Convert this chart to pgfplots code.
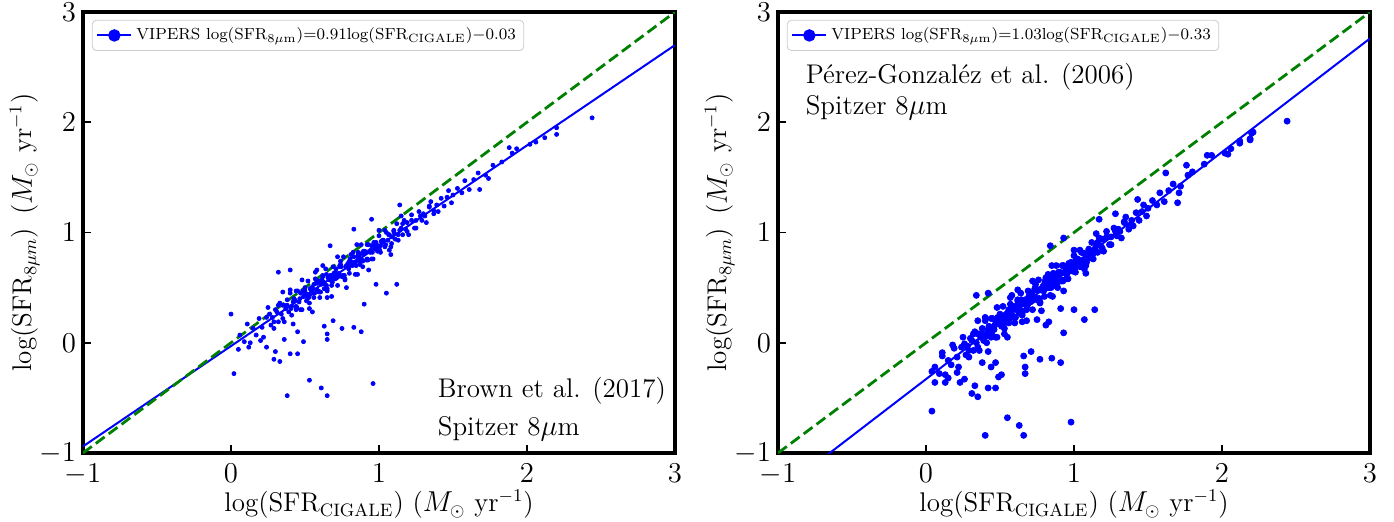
\documentclass[border=0pt]{standalone}
\usepackage{pgfplots}
\pgfplotsset{compat=1.18}
\definecolor{mgreen}{rgb}{0,0.5,0}

\pgfplotsset{
  sfrpanel/.style={
    scale only axis, width=296pt, height=220.5pt,
    xmin=-1, xmax=3, ymin=-1, ymax=3,
    xtick={-1,0,1,2,3}, ytick={-1,0,1,2,3},
    tick align=inside, xtick pos=bottom, ytick pos=left,
    major tick length=3.8pt,
    every tick/.style={black, line width=0.8pt},
    axis line style={line width=1.6pt},
    tick label style={font=\fontsize{13.5}{16}\selectfont},
    xticklabel style={yshift=-2pt},
    label style={font=\fontsize{13.5}{16}\selectfont},
    xlabel={log(SFR$_{\mathrm{CIGALE}}$) ($M_\odot$ yr$^{-1}$)},
    ylabel={log(SFR$_{8\mu m}$)\, ($M_\odot$ yr$^{-1}$)},
    xlabel style={yshift=4.5pt},
    ylabel style={yshift=-7pt},
    legend style={at={(0.015,0.982)}, anchor=north west, draw=black!20,
      rounded corners=2pt, font=\fontsize{8}{10}\selectfont,
      inner xsep=2pt, inner ysep=1.8pt},
    legend cell align=left,
  },
  pts/.style={only marks, mark=*, blue, mark options={draw=blue, fill=blue}},
}

\begin{document}
\begin{tikzpicture}
% ---------------- left panel: Brown et al. (2017)
\begin{axis}[sfrpanel]
\addlegendimage{blue, line width=1pt, mark=*, mark size=2.6pt}
\addlegendentry{VIPERS log(SFR$_{8\mu\mathrm{m}}$)=0.91log(SFR$_{\mathrm{CIGALE}}$)$-$0.03}
% main sequence
\addplot[pts, mark size=1pt] coordinates {
(0.06,0.07) (0.09,0.01) (0.11,0.17) (0.13,0.00) (0.15,0.13) (0.17,0.07) (0.19,0.22) (0.21,0.14)
(0.22,0.05) (0.24,0.23) (0.25,0.32) (0.27,0.16) (0.28,0.23) (0.29,0.13) (0.30,0.30)
(0.31,0.28) (0.32,0.19) (0.33,0.36) (0.34,0.26) (0.35,0.34) (0.36,0.19) (0.37,0.31) (0.38,0.39)
(0.39,0.28) (0.40,0.45) (0.41,0.25) (0.42,0.37) (0.43,0.39) (0.44,0.30) (0.45,0.47) (0.46,0.37)
(0.47,0.45) (0.48,0.30) (0.49,0.42) (0.50,0.50) (0.51,0.38) (0.52,0.56) (0.53,0.36) (0.54,0.48)
(0.55,0.50) (0.56,0.41) (0.57,0.58) (0.58,0.48) (0.59,0.56) (0.60,0.41)
(0.36,0.34) (0.44,0.33) (0.50,0.44) (0.53,0.31) (0.57,0.64)
(0.61,0.53) (0.62,0.60) (0.63,0.49) (0.64,0.67) (0.65,0.47) (0.66,0.59) (0.67,0.61) (0.68,0.52)
(0.69,0.69) (0.70,0.59) (0.71,0.67) (0.72,0.52) (0.73,0.63) (0.74,0.71) (0.75,0.60) (0.76,0.78)
(0.77,0.58) (0.78,0.70) (0.79,0.72) (0.80,0.63) (0.81,0.80) (0.82,0.70) (0.83,0.78) (0.84,0.62)
(0.85,0.74) (0.86,0.82) (0.87,0.71) (0.88,0.89) (0.89,0.69) (0.90,0.81)
(0.615,0.57) (0.645,0.52) (0.675,0.59) (0.705,0.58) (0.735,0.70) (0.765,0.61) (0.795,0.69)
(0.825,0.82) (0.855,0.62) (0.885,0.81)
(0.91,0.82) (0.92,0.76) (0.93,0.89) (0.94,0.82) (0.95,0.88) (0.96,0.76) (0.97,0.85) (0.98,0.91)
(0.99,0.83) (1.00,0.97) (1.01,0.82) (1.02,0.91) (1.03,0.93) (1.04,0.87) (1.05,1.00) (1.06,0.93)
(1.07,0.98) (1.08,0.87) (1.09,0.96) (1.10,1.02) (1.11,0.94) (1.12,1.08) (1.13,0.93) (1.14,1.02)
(1.15,1.04) (1.16,0.98) (1.17,1.11) (1.18,1.03) (1.19,1.09) (1.20,0.98)
(1.22,1.11) (1.24,1.04) (1.25,1.11) (1.27,1.19) (1.29,1.11) (1.30,1.17) (1.32,1.09) (1.34,1.23)
(1.35,1.28) (1.37,1.20) (1.39,1.25) (1.40,1.19) (1.42,1.31) (1.44,1.24) (1.46,1.32) (1.47,1.38)
(1.49,1.27) (1.50,1.34)
(1.53,1.40) (1.56,1.36) (1.58,1.47) (1.61,1.39) (1.64,1.48) (1.67,1.54) (1.72,1.52) (1.77,1.61)
(1.83,1.64) (1.90,1.72) (1.93,1.76) (2.02,1.80) (2.06,1.82) (2.12,1.86) (2.20,1.95) (2.20,1.89)
(2.44,2.04)
};
% densest part of the sequence
\addplot[pts, mark size=1pt] coordinates {
(0.405,0.31) (0.425,0.40) (0.445,0.32) (0.465,0.40) (0.485,0.47) (0.505,0.42) (0.525,0.41)
(0.545,0.50) (0.565,0.45) (0.585,0.54) (0.605,0.46) (0.625,0.55) (0.645,0.62) (0.665,0.57)
(0.685,0.55) (0.705,0.64) (0.725,0.60) (0.745,0.69) (0.765,0.61) (0.785,0.69) (0.805,0.76)
(0.825,0.71) (0.845,0.70) (0.865,0.79) (0.885,0.75) (0.905,0.83) (0.925,0.75) (0.945,0.84)
(0.965,0.91) (0.985,0.86) (1.005,0.84) (1.025,0.93) (1.045,0.89) (1.065,0.98) (1.085,0.90)
(1.105,0.99)
(0.515,0.44) (0.535,0.49) (0.555,0.45) (0.575,0.54) (0.595,0.46) (0.615,0.54) (0.635,0.53)
(0.655,0.59) (0.675,0.58) (0.695,0.63) (0.715,0.59) (0.735,0.69) (0.755,0.61) (0.775,0.69)
(0.795,0.67) (0.815,0.73) (0.835,0.73) (0.855,0.78) (0.875,0.74) (0.895,0.83) (0.915,0.75)
(0.935,0.83) (0.955,0.82) (0.975,0.88) (0.995,0.88) (1.015,0.92)
(0.26,0.26) (0.29,0.19) (0.32,0.34) (0.35,0.22) (0.38,0.34) (0.41,0.33) (0.44,0.47) (0.47,0.30)
(0.50,0.47) (0.53,0.43) (0.56,0.53) (0.59,0.47) (0.62,0.61) (0.65,0.49) (0.68,0.61) (0.71,0.61)
(0.74,0.74) (0.77,0.57) (0.80,0.74) (0.83,0.71) (0.86,0.80) (0.89,0.74) (0.92,0.89) (0.95,0.76)
(0.98,0.88) (1.01,0.88) (1.04,1.02) (1.07,0.84) (1.10,1.01) (1.13,0.98) (1.16,1.08) (1.19,1.01)
(1.22,1.16) (1.25,1.04) (1.28,1.15) (1.31,1.15) (1.34,1.24) (1.37,1.17)
(0.35,0.46) (0.42,0.17) (0.48,0.57) (0.55,0.28) (0.62,0.70) (0.68,0.42) (0.72,0.78) (0.78,0.50)
(0.85,0.89) (0.93,0.66) (1.00,1.02) (1.08,0.80) (1.15,1.15) (0.40,0.48) (0.58,0.66) (0.65,0.41)
};
% scattered points
\addplot[pts, mark size=1pt] coordinates {
(0.00,0.26) (0.32,0.64) (0.40,0.66) (0.67,0.88) (0.83,1.03) (0.95,1.12) (1.14,1.25) (1.12,0.53)
(1.05,0.45) (0.98,0.53) (0.90,0.35) (0.88,0.10) (0.83,0.14) (0.75,0.13) (0.69,0.20) (0.63,0.15)
(0.65,0.08) (0.65,0.03) (0.49,0.01) (0.45,0.10) (0.45,-0.10) (0.40,-0.10) (0.36,0.03) (0.30,-0.08)
(0.33,-0.17) (0.29,-0.15) (0.24,-0.04) (0.20,0.02) (0.12,-0.04) (0.05,-0.06) (0.02,-0.28)
(0.53,-0.34) (0.61,-0.41) (0.65,-0.48) (0.38,-0.48) (0.96,-0.37) (1.68,1.39) (1.74,1.49)
(1.88,1.77)
};
\addplot[blue, line width=1pt] coordinates {(-1,-0.94) (3,2.70)};
\addplot[mgreen, line width=1.4pt, dash pattern=on 5.5pt off 2.5pt] coordinates {(-1,-1) (3,3)};
\node[anchor=base west, font=\fontsize{13.5}{16}\selectfont] at (axis cs:1.35,-0.50) {Brown et al. (2017)};
\node[anchor=base west, font=\fontsize{13.5}{16}\selectfont] at (axis cs:1.35,-0.84) {Spitzer 8$\mu$m};
\end{axis}

% ---------------- right panel: Perez-Gonzalez et al. (2006)
\begin{axis}[sfrpanel, at={(347.5pt,0)}]
\addlegendimage{blue, line width=1pt, mark=*, mark size=2.6pt}
\addlegendentry{VIPERS log(SFR$_{8\mu\mathrm{m}}$)=1.03log(SFR$_{\mathrm{CIGALE}}$)$-$0.33}
\addplot[pts, mark size=1.5pt] coordinates {
(0.06,-0.22) (0.09,-0.28) (0.11,-0.12) (0.13,-0.29) (0.15,-0.16) (0.17,-0.20) (0.19,-0.05)
(0.21,-0.13) (0.22,-0.22) (0.24,-0.04) (0.25,0.05) (0.27,-0.11) (0.28,-0.03) (0.29,-0.13) (0.30,0.04)
(0.31,0.02) (0.32,-0.07) (0.33,0.10) (0.34,0.00) (0.35,0.08) (0.36,-0.07) (0.37,0.05) (0.38,0.13)
(0.39,0.02) (0.40,0.20) (0.41,0.00) (0.42,0.12) (0.43,0.14) (0.44,0.05) (0.45,0.22) (0.46,0.12)
(0.47,0.20) (0.48,0.05) (0.49,0.18) (0.50,0.26) (0.51,0.15) (0.52,0.33) (0.53,0.13) (0.54,0.25)
(0.55,0.27) (0.56,0.18) (0.57,0.35) (0.58,0.25) (0.59,0.33) (0.60,0.18)
(0.36,0.08) (0.44,0.08) (0.50,0.20) (0.53,0.08) (0.57,0.41)
(0.61,0.30) (0.62,0.38) (0.63,0.27) (0.64,0.45) (0.65,0.25) (0.66,0.37) (0.67,0.39) (0.68,0.30)
(0.69,0.47) (0.70,0.37) (0.71,0.45) (0.72,0.30) (0.73,0.42) (0.74,0.50) (0.75,0.39) (0.76,0.57)
(0.77,0.37) (0.78,0.49) (0.79,0.51) (0.80,0.42) (0.81,0.59) (0.82,0.50) (0.83,0.58) (0.84,0.43)
(0.85,0.55) (0.86,0.63) (0.87,0.52) (0.88,0.70) (0.89,0.50) (0.90,0.62)
(0.615,0.34) (0.645,0.29) (0.675,0.38) (0.705,0.37) (0.735,0.49) (0.765,0.40) (0.795,0.49)
(0.825,0.62) (0.855,0.42) (0.885,0.61)
(0.91,0.63) (0.92,0.57) (0.93,0.70) (0.94,0.63) (0.95,0.69) (0.96,0.58) (0.97,0.67) (0.98,0.73)
(0.99,0.65) (1.00,0.79) (1.01,0.64) (1.02,0.73) (1.03,0.75) (1.04,0.69) (1.05,0.82) (1.06,0.75)
(1.07,0.81) (1.08,0.70) (1.09,0.79) (1.10,0.85) (1.11,0.77) (1.12,0.91) (1.13,0.76) (1.14,0.85)
(1.15,0.88) (1.16,0.82) (1.17,0.95) (1.18,0.88) (1.19,0.94) (1.20,0.83)
(1.22,0.96) (1.24,0.89) (1.25,0.96) (1.27,1.04) (1.29,0.97) (1.30,1.03) (1.32,0.95) (1.34,1.09)
(1.35,1.14) (1.37,1.06) (1.39,1.11) (1.40,1.06) (1.42,1.18) (1.44,1.11) (1.46,1.19) (1.47,1.25)
(1.49,1.15) (1.50,1.22)
(1.53,1.29) (1.56,1.25) (1.58,1.36) (1.61,1.28) (1.64,1.38) (1.67,1.44) (1.72,1.42) (1.77,1.52)
(1.80,1.55) (1.88,1.62) (1.93,1.70) (2.02,1.72) (2.06,1.76) (2.12,1.83) (2.20,1.90) (2.19,1.84)
(2.44,2.01)
};
\addplot[pts, mark size=1.5pt] coordinates {
(0.405,0.06) (0.425,0.15) (0.445,0.07) (0.465,0.16) (0.485,0.23) (0.505,0.18) (0.525,0.17)
(0.545,0.26) (0.565,0.22) (0.585,0.31) (0.605,0.23) (0.625,0.32) (0.645,0.39) (0.665,0.35)
(0.685,0.34) (0.705,0.43) (0.725,0.39) (0.745,0.48) (0.765,0.40) (0.785,0.49) (0.805,0.56)
(0.825,0.51) (0.845,0.50) (0.865,0.59) (0.885,0.55) (0.905,0.64) (0.925,0.56) (0.945,0.65)
(0.965,0.72) (0.985,0.67) (1.005,0.67) (1.025,0.76) (1.045,0.72) (1.065,0.81) (1.085,0.73)
(1.105,0.82)
(0.515,0.20) (0.535,0.25) (0.555,0.21) (0.575,0.31) (0.595,0.23) (0.615,0.31) (0.635,0.30)
(0.655,0.36) (0.675,0.37) (0.695,0.42) (0.715,0.38) (0.735,0.48) (0.755,0.40) (0.775,0.48)
(0.795,0.47) (0.815,0.53) (0.835,0.53) (0.855,0.58) (0.875,0.54) (0.895,0.64) (0.915,0.56)
(0.935,0.64) (0.955,0.63) (0.975,0.69) (0.995,0.69) (1.015,0.75)
(0.26,-0.01) (0.29,-0.07) (0.32,0.08) (0.35,-0.04) (0.38,0.08) (0.41,0.08) (0.44,0.22) (0.47,0.05)
(0.50,0.23) (0.53,0.20) (0.56,0.30) (0.59,0.24) (0.62,0.39) (0.65,0.27) (0.68,0.39) (0.71,0.39)
(0.74,0.53) (0.77,0.36) (0.80,0.53) (0.83,0.50) (0.86,0.61) (0.89,0.55) (0.92,0.70) (0.95,0.58)
(0.98,0.70) (1.01,0.70) (1.04,0.84) (1.07,0.67) (1.10,0.84) (1.13,0.81) (1.16,0.91) (1.19,0.86)
(1.22,1.01) (1.25,0.89) (1.28,1.01) (1.31,1.01) (1.34,1.10) (1.37,1.03)
(0.35,0.20) (0.42,-0.08) (0.48,0.32) (0.55,0.05) (0.62,0.48) (0.68,0.20) (0.72,0.56) (0.78,0.29)
(0.85,0.70) (0.93,0.47) (1.00,0.84) (1.08,0.63) (1.15,0.99) (0.40,0.23) (0.58,0.43) (0.65,0.19)
};
\addplot[pts, mark size=1.5pt] coordinates {
(0.04,-0.62) (0.55,-0.68) (0.63,-0.75) (0.66,-0.84) (0.40,-0.84) (0.98,-0.72) (1.14,0.30)
(1.07,0.21) (0.93,0.09) (1.00,0.30) (0.91,0.31) (0.91,-0.18) (0.85,-0.14) (0.77,-0.15) (0.83,0.19)
(0.81,0.16) (0.75,0.21) (0.71,-0.08) (0.66,-0.12) (0.67,-0.22) (0.67,-0.28) (0.51,-0.29)
(0.49,-0.31) (0.47,-0.41) (0.42,-0.41) (0.44,-0.22) (0.47,-0.18) (0.38,-0.18) (0.35,-0.49)
(0.31,-0.46) (0.33,-0.39) (0.26,-0.33) (0.23,-0.36) (0.21,-0.27) (0.15,-0.32) (0.13,-0.36)
(0.06,-0.36) (0.04,-0.26) (0.11,-0.09) (0.18,-0.02) (0.34,0.43) (0.42,0.45) (0.84,0.88)
(0.93,0.95) (1.17,1.12) (1.28,1.17) (1.43,1.30) (1.62,1.54) (1.76,1.61) (1.70,1.27) (1.71,1.36)
(1.90,1.70) (2.12,1.81) (2.19,1.85) (2.21,1.91) (2.04,1.71)
};
\addplot[blue, line width=1pt] coordinates {(-1,-1.36) (3,2.76)};
\addplot[mgreen, line width=1.4pt, dash pattern=on 5.5pt off 2.5pt] coordinates {(-1,-1) (3,3)};
\node[anchor=base west, font=\fontsize{13.5}{16}\selectfont] at (axis cs:-0.86,2.35) {P\'erez-Gonzal\'ez et al. (2006)};
\node[anchor=base west, font=\fontsize{13.5}{16}\selectfont] at (axis cs:-0.86,2.07) {Spitzer 8$\mu$m};
\end{axis}
\pgfresetboundingbox
\path (-41.5pt,-34pt) rectangle (655.5pt,226.5pt);
\end{tikzpicture}
\end{document}
